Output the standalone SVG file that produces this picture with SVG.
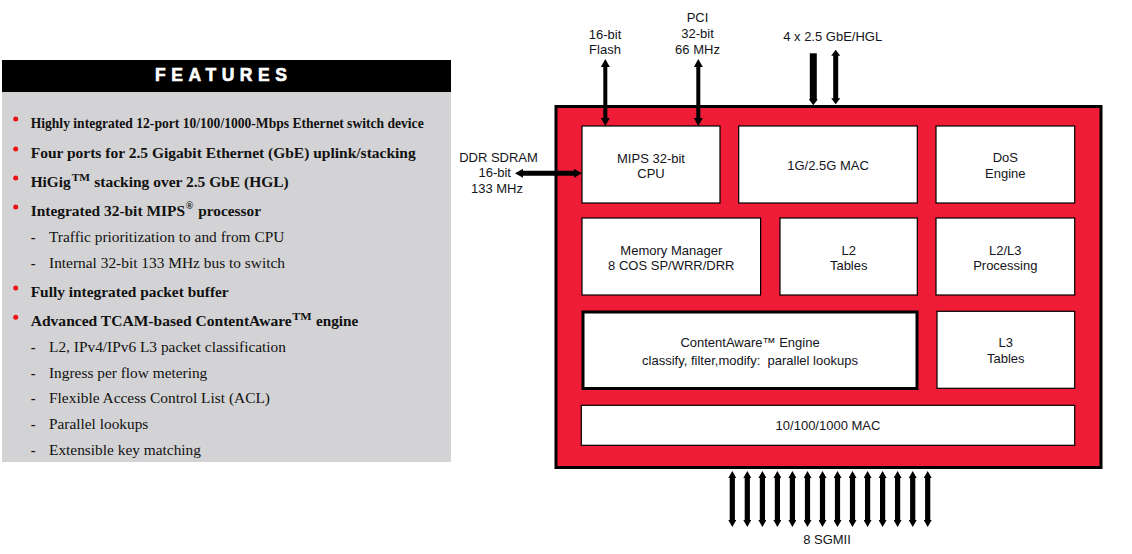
<svg xmlns="http://www.w3.org/2000/svg" width="1132" height="554" viewBox="0 0 1132 554">
<style>
.ser{font-family:"Liberation Serif","Times New Roman",serif;fill:#111;}
.b{font-weight:bold;font-size:14.5px;}
.r{font-size:15px;}
.sup{font-size:10px;}
.sans{font-family:"Liberation Sans",Arial,sans-serif;font-size:13px;fill:#141420;text-anchor:middle;}
.blk{fill:#fff;stroke:#000;stroke-width:1.2;}
.dot{fill:#f01010;}
.arr{stroke:#000;fill:none;}
</style>
<defs>
<marker id="ah" viewBox="0 0 8 9" markerWidth="8" markerHeight="9" refX="1" refY="4.5" orient="auto-start-reverse" markerUnits="userSpaceOnUse">
<path d="M0,0 L8,4.5 L0,9 z" fill="#000"/>
</marker>
<marker id="ahs" viewBox="0 0 6 9" markerWidth="6" markerHeight="9" refX="1" refY="4.5" orient="auto-start-reverse" markerUnits="userSpaceOnUse">
<path d="M0,0 L6,4.5 L0,9 z" fill="#000"/>
</marker>
<marker id="ahg" viewBox="0 0 7 8" markerWidth="7" markerHeight="8" refX="1" refY="4" orient="auto-start-reverse" markerUnits="userSpaceOnUse">
<path d="M0,0 L7,4 L0,8 z" fill="#000"/>
</marker>
</defs>
<rect width="1132" height="554" fill="#fff"/>

<g id="features">
<rect x="2" y="60" width="449" height="32" fill="#000"/>
<rect x="2" y="92" width="449" height="370" fill="#D3D3D5"/>
<text x="155" y="81" font-family="'Liberation Sans',Arial,sans-serif" font-weight="bold" font-size="17.5" fill="#fff" stroke="#fff" stroke-width="0.6" textLength="132" lengthAdjust="spacing">FEATURES</text>

<circle class="dot" cx="15.7" cy="119" r="2.5"/>
<text class="ser b" x="30.7" y="127.7" textLength="393" lengthAdjust="spacingAndGlyphs">Highly integrated 12-port 10/100/1000-Mbps Ethernet switch device</text>
<circle class="dot" cx="15.7" cy="149" r="2.5"/>
<text class="ser b" x="30.7" y="157.7" textLength="385" lengthAdjust="spacingAndGlyphs">Four ports for 2.5 Gigabit Ethernet (GbE) uplink/stacking</text>
<circle class="dot" cx="15.7" cy="178" r="2.5"/>
<text class="ser b" x="30.7" y="186.7" textLength="40" lengthAdjust="spacingAndGlyphs">HiGig</text>
<text class="ser b sup" x="71.7" y="180.5" textLength="18.3" lengthAdjust="spacingAndGlyphs">TM</text>
<text class="ser b" x="94.3" y="186.7" textLength="194.4" lengthAdjust="spacingAndGlyphs">stacking over 2.5 GbE (HGL)</text>
<circle class="dot" cx="15.7" cy="207" r="2.5"/>
<text class="ser b" x="30.7" y="215.7" textLength="154.3" lengthAdjust="spacingAndGlyphs">Integrated 32-bit MIPS</text>
<text class="ser b sup" x="185.7" y="208.5">®</text>
<text class="ser b" x="198.3" y="215.7" textLength="62.7" lengthAdjust="spacingAndGlyphs">processor</text>
<text class="ser b" x="30.7" y="242.3">-</text>
<text class="ser r" x="49" y="242.3" textLength="235.3" lengthAdjust="spacingAndGlyphs">Traffic prioritization to and from CPU</text>
<text class="ser b" x="30.7" y="268.3">-</text>
<text class="ser r" x="49" y="268.3" textLength="236" lengthAdjust="spacingAndGlyphs">Internal 32-bit 133 MHz bus to switch</text>
<circle class="dot" cx="15.7" cy="288" r="2.5"/>
<text class="ser b" x="30.7" y="296.7" textLength="198" lengthAdjust="spacingAndGlyphs">Fully integrated packet buffer</text>
<circle class="dot" cx="15.7" cy="317.3" r="2.5"/>
<text class="ser b" x="30.7" y="326" textLength="261" lengthAdjust="spacingAndGlyphs">Advanced TCAM-based ContentAware</text>
<text class="ser b sup" x="292.3" y="319.8" textLength="19.4" lengthAdjust="spacingAndGlyphs">TM</text>
<text class="ser b" x="316" y="326" textLength="42.3" lengthAdjust="spacingAndGlyphs">engine</text>
<text class="ser b" x="30.7" y="351.7">-</text>
<text class="ser r" x="49" y="351.7" textLength="237" lengthAdjust="spacingAndGlyphs">L2, IPv4/IPv6 L3 packet classification</text>
<text class="ser b" x="30.7" y="378.3">-</text>
<text class="ser r" x="49" y="378.3" textLength="158.3" lengthAdjust="spacingAndGlyphs">Ingress per flow metering</text>
<text class="ser b" x="30.7" y="403.3">-</text>
<text class="ser r" x="49" y="403.3" textLength="221" lengthAdjust="spacingAndGlyphs">Flexible Access Control List (ACL)</text>
<text class="ser b" x="30.7" y="429.3">-</text>
<text class="ser r" x="49" y="429.3" textLength="99.3" lengthAdjust="spacingAndGlyphs">Parallel lookups</text>
<text class="ser b" x="30.7" y="455">-</text>
<text class="ser r" x="49" y="455" textLength="152" lengthAdjust="spacingAndGlyphs">Extensible key matching</text>
</g>

<g id="chip">
<rect x="556" y="106.5" width="545" height="361" fill="#EE1C36" stroke="#000" stroke-width="3"/>
</g>

<g id="cpu">
<rect class="blk" x="582" y="126" width="138" height="77"/>
<text class="sans" x="651" y="163">MIPS 32-bit</text>
<text class="sans" x="651" y="177.5">CPU</text>
</g>
<g id="gmac">
<rect class="blk" x="738.7" y="126" width="178.6" height="77"/>
<text class="sans" x="828" y="169.5">1G/2.5G MAC</text>
</g>
<g id="dos">
<rect class="blk" x="936" y="126" width="138.7" height="77"/>
<text class="sans" x="1005.3" y="162">DoS</text>
<text class="sans" x="1005.3" y="177.5">Engine</text>
</g>
<g id="mmu">
<rect class="blk" x="582" y="218" width="178.6" height="77"/>
<text class="sans" x="671.3" y="255">Memory Manager</text>
<text class="sans" x="671.3" y="270">8 COS SP/WRR/DRR</text>
</g>
<g id="l2">
<rect class="blk" x="780" y="218" width="137.3" height="77"/>
<text class="sans" x="848.7" y="255">L2</text>
<text class="sans" x="848.7" y="270">Tables</text>
</g>
<g id="l2l3">
<rect class="blk" x="936" y="218" width="138.7" height="77"/>
<text class="sans" x="1005.3" y="255">L2/L3</text>
<text class="sans" x="1005.3" y="270">Processing</text>
</g>
<g id="cae">
<rect x="583" y="312" width="334" height="76.5" fill="#fff" stroke="#000" stroke-width="3"/>
<text class="sans" x="750" y="347">ContentAware™ Engine</text>
<text class="sans" x="750" y="365" xml:space="preserve">classify, filter,modify:  parallel lookups</text>
</g>
<g id="l3">
<rect class="blk" x="937" y="311.3" width="137.7" height="77"/>
<text class="sans" x="1005.8" y="346.7">L3</text>
<text class="sans" x="1005.8" y="362.7">Tables</text>
</g>
<g id="mac">
<rect class="blk" x="581.3" y="405.3" width="493.4" height="40"/>
<text class="sans" x="828" y="430">10/100/1000 MAC</text>
</g>

<g id="labels">
<text class="sans" x="605" y="38.5">16-bit</text>
<text class="sans" x="605" y="54">Flash</text>
<text class="sans" x="697.5" y="21.5">PCI</text>
<text class="sans" x="697.5" y="37.5">32-bit</text>
<text class="sans" x="697.5" y="53.5">66 MHz</text>
<text class="sans" x="832.7" y="40.7">4 x 2.5 GbE/HGL</text>
<text class="sans" x="498.5" y="161.7">DDR SDRAM</text>
<text class="sans" x="494.7" y="176.7">16-bit</text>
<text class="sans" x="497" y="193.3">133 MHz</text>
<text class="sans" x="827" y="544">8 SGMII</text>
</g>

<g id="connectors" class="arr">
<line x1="605.3" y1="66" x2="605.3" y2="119" stroke-width="4" marker-start="url(#ah)" marker-end="url(#ah)"/>
<line x1="698.3" y1="66" x2="698.3" y2="119" stroke-width="4" marker-start="url(#ah)" marker-end="url(#ah)"/>
<line x1="522" y1="173.3" x2="575" y2="173.3" stroke-width="5" marker-start="url(#ah)" marker-end="url(#ah)"/>
<line x1="813.3" y1="53.3" x2="813.3" y2="100.3" stroke-width="7" marker-end="url(#ahs)"/>
<line x1="835.7" y1="54.7" x2="835.7" y2="99.3" stroke-width="5" marker-start="url(#ahs)" marker-end="url(#ahs)"/>
<g stroke-width="5.2">
<line x1="732.3" y1="477" x2="732.3" y2="521" marker-start="url(#ahg)" marker-end="url(#ahg)"/>
<line x1="747.3" y1="477" x2="747.3" y2="521" marker-start="url(#ahg)" marker-end="url(#ahg)"/>
<line x1="762.4" y1="477" x2="762.4" y2="521" marker-start="url(#ahg)" marker-end="url(#ahg)"/>
<line x1="777.4" y1="477" x2="777.4" y2="521" marker-start="url(#ahg)" marker-end="url(#ahg)"/>
<line x1="792.4" y1="477" x2="792.4" y2="521" marker-start="url(#ahg)" marker-end="url(#ahg)"/>
<line x1="807.5" y1="477" x2="807.5" y2="521" marker-start="url(#ahg)" marker-end="url(#ahg)"/>
<line x1="822.5" y1="477" x2="822.5" y2="521" marker-start="url(#ahg)" marker-end="url(#ahg)"/>
<line x1="837.5" y1="477" x2="837.5" y2="521" marker-start="url(#ahg)" marker-end="url(#ahg)"/>
<line x1="852.5" y1="477" x2="852.5" y2="521" marker-start="url(#ahg)" marker-end="url(#ahg)"/>
<line x1="867.6" y1="477" x2="867.6" y2="521" marker-start="url(#ahg)" marker-end="url(#ahg)"/>
<line x1="882.6" y1="477" x2="882.6" y2="521" marker-start="url(#ahg)" marker-end="url(#ahg)"/>
<line x1="897.6" y1="477" x2="897.6" y2="521" marker-start="url(#ahg)" marker-end="url(#ahg)"/>
<line x1="912.7" y1="477" x2="912.7" y2="521" marker-start="url(#ahg)" marker-end="url(#ahg)"/>
<line x1="927.7" y1="477" x2="927.7" y2="521" marker-start="url(#ahg)" marker-end="url(#ahg)"/>
</g>
</g>
</svg>
